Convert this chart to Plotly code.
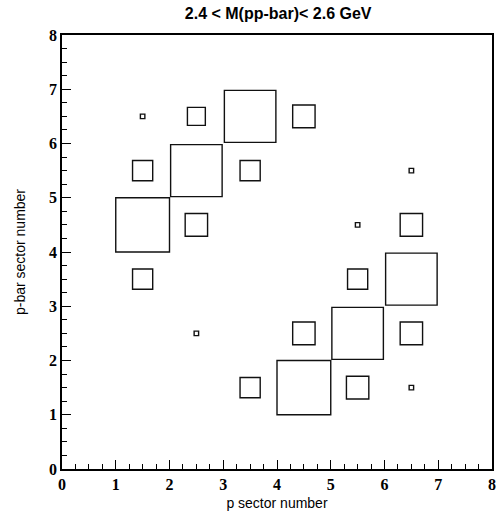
import plotly.graph_objects as go

# bin centres (p sector, p-bar sector) and bin contents
p_sector = [1.5, 2.5, 3.5, 4.5, 1.5, 2.5, 3.5, 1.5, 2.5, 1.5, 2.5,
            6.5, 5.5, 6.5, 6.5, 5.5, 4.5, 5.5, 6.5, 3.5, 4.5, 5.5, 6.5]
pbar_sector = [6.5, 6.5, 6.5, 6.5, 5.5, 5.5, 5.5, 4.5, 4.5, 3.5, 2.5,
               5.5, 4.5, 4.5, 3.5, 3.5, 2.5, 2.5, 2.5, 1.5, 1.5, 1.5, 1.5]
counts = [2, 8, 23, 10, 9, 23, 9, 24, 10, 9, 2,
          2, 2, 10, 23, 9, 10, 23, 10, 9, 24, 10, 2]

vmax = max(counts)
bin_width = 1.0

fig = go.Figure()
# invisible trace to anchor axes
fig.add_trace(go.Scatter(x=p_sector, y=pbar_sector, mode="markers",
                         marker=dict(size=1, opacity=0), hoverinfo="skip",
                         showlegend=False))

for xc, yc, c in zip(p_sector, pbar_sector, counts):
    h = 0.5 * bin_width * c / vmax
    fig.add_shape(type="rect", xref="x", yref="y",
                  x0=xc - h, x1=xc + h, y0=yc - h, y1=yc + h,
                  line=dict(color="#111111", width=1.4), fillcolor="rgba(0,0,0,0)")

tickfont = dict(family="Liberation Serif", size=16, color="black", weight="bold")
axis_common = dict(
    range=[0, 8], showgrid=False, zeroline=False,
    showline=True, linecolor="black", linewidth=1.6, mirror=True,
    ticks="inside", ticklen=9, tickwidth=1.2, tickcolor="black",
    tick0=0, dtick=1, tickfont=tickfont,
    minor=dict(ticks="inside", ticklen=5, tickwidth=1.2, tickcolor="black",
               dtick=0.25, tick0=0, showgrid=False),
)

fig.update_layout(
    width=503, height=519,
    margin=dict(l=62, r=7, t=35, b=50),
    paper_bgcolor="white", plot_bgcolor="white",
    title=dict(text="<b>2.4 < M(pp-bar)< 2.6 GeV</b>", x=0.553, xanchor="center",
               y=0.974, yanchor="middle",
               font=dict(family="Liberation Sans", size=16, color="black")),
    xaxis=dict(**axis_common,
               title=dict(text="p sector number", standoff=6,
                          font=dict(family="Liberation Sans", size=14, color="black"))),
    yaxis=dict(**axis_common,
               title=dict(text="p-bar sector number", standoff=20,
                          font=dict(family="Liberation Sans", size=14, color="black"))),
    showlegend=False,
)

fig.write_html("out.html")
